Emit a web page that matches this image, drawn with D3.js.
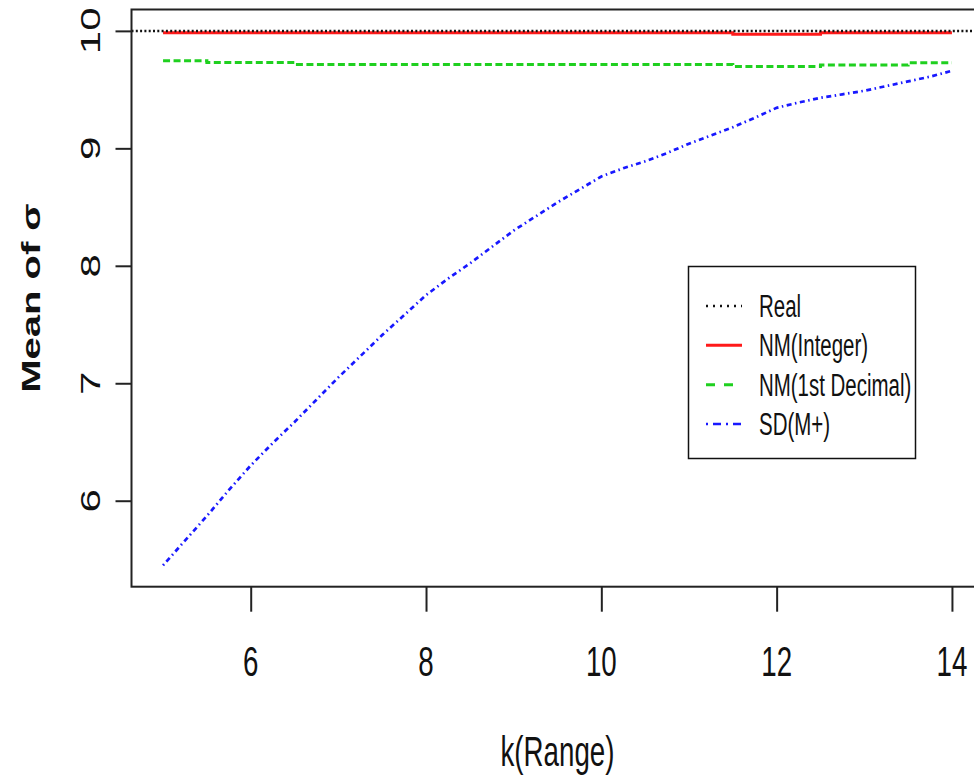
<!DOCTYPE html>
<html>
<head>
<meta charset="utf-8">
<script src="https://cdn.jsdelivr.net/npm/d3@7"></script>
<style>
  html, body { margin: 0; padding: 0; background: #fff; }
  svg { display: block; }
  text { font-family: "Liberation Sans", Arial, sans-serif; fill: #111; }
</style>
</head>
<body>
<svg id="chart" width="974" height="778"></svg>
<script>
// ---- data ----
const kValues = [5, 5.25, 5.5, 5.75, 6, 6.25, 6.5, 6.75, 7, 7.25, 7.5, 7.75, 8, 8.25, 8.5, 8.75,
  9, 9.25, 9.5, 9.75, 10, 10.25, 10.5, 10.75, 11, 11.25, 11.5, 11.75, 12, 12.25, 12.5, 12.75,
  13, 13.25, 13.5, 13.75, 14];
const realValue = 10;
const nmInteger = [9.985, 9.985, 9.985, 9.985, 9.985, 9.985, 9.985, 9.985, 9.985, 9.985, 9.985, 9.985,
  9.985, 9.985, 9.985, 9.985, 9.985, 9.985, 9.985, 9.985, 9.985, 9.985, 9.985, 9.985, 9.985, 9.985,
  9.972, 9.972, 9.972, 9.972, 9.985, 9.985, 9.985, 9.985, 9.985, 9.985, 9.985];
const nmDecimal = [9.745, 9.745, 9.73, 9.73, 9.73, 9.73, 9.714, 9.714, 9.714, 9.714, 9.714, 9.714,
  9.714, 9.714, 9.714, 9.714, 9.714, 9.714, 9.714, 9.714, 9.714, 9.714, 9.714, 9.714, 9.714, 9.714,
  9.697, 9.697, 9.697, 9.697, 9.71, 9.71, 9.71, 9.71, 9.728, 9.728, 9.728];
const sdMplus = [5.45, 5.66, 5.87, 6.09, 6.30, 6.49, 6.67, 6.86, 7.05, 7.23, 7.41, 7.58, 7.75, 7.89,
  8.02, 8.16, 8.30, 8.42, 8.54, 8.65, 8.76, 8.83, 8.89, 8.96, 9.04, 9.11, 9.18, 9.26, 9.345, 9.39,
  9.43, 9.46, 9.49, 9.53, 9.57, 9.61, 9.66];
const xTicks = [6, 8, 10, 12, 14];
const yTicks = [6, 7, 8, 9, 10];
const legendLabels = ["Real", "NM(Integer)", "NM(1st Decimal)", "SD(M+)"];
const xTitle = "k(Range)";
const yTitle = "Mean of  σ";

// ---- layout ----
const svg = d3.select("#chart");
const plot = { left: 131.5, right: 983.5, top: 9.5, bottom: 586.7 };
const sx = 0.66; // horizontal squeeze of the reference's text

const xExt = d3.extent(kValues);
const xPad = (xExt[1] - xExt[0]) * 0.04;
const allY = [...nmInteger, ...nmDecimal, ...sdMplus, realValue];
const yExt = d3.extent(allY);
const yPad = (yExt[1] - yExt[0]) * 0.04;

const x = d3.scaleLinear().domain([xExt[0] - xPad, xExt[1] + xPad]).range([plot.left, plot.right]);
const y = d3.scaleLinear().domain([yExt[0] - yPad, yExt[1] + yPad]).range([plot.bottom, plot.top]);

const axisColor = "#222";

// ---- series ----
const series = [
  { name: legendLabels[1], values: nmInteger, color: "#ff1a1a", dash: null, width: 3, curve: d3.curveStepAfter },
  { name: legendLabels[2], values: nmDecimal, color: "#1fd01f", dash: "7,3.5", width: 3, curve: d3.curveStepAfter },
  { name: legendLabels[3], values: sdMplus, color: "#1818ff", dash: "1.5,3.5,5,3.5", width: 2.7, curve: d3.curveLinear }
];

const plotG = svg.append("g");
plotG.selectAll("path.series")
  .data(series)
  .join("path")
  .attr("class", "series")
  .attr("fill", "none")
  .attr("stroke", d => d.color)
  .attr("stroke-width", d => d.width)
  .attr("stroke-dasharray", d => d.dash)
  .attr("d", d => d3.line().curve(d.curve).x((v, i) => x(kValues[i])).y(v => y(v))(d.values));

// Real reference line (abline across the whole plot region)
plotG.append("path")
  .attr("fill", "none")
  .attr("stroke", "#111")
  .attr("stroke-width", 2.5)
  .attr("stroke-dasharray", "2,2.3")
  .attr("d", d3.line().x(d => x(d)).y(() => y(realValue))(x.domain()));

// ---- box ----
svg.append("rect")
  .attr("x", plot.left).attr("y", plot.top)
  .attr("width", plot.right - plot.left).attr("height", plot.bottom - plot.top)
  .attr("fill", "none").attr("stroke", axisColor).attr("stroke-width", 2);

// ---- axes ----
const xAxisG = svg.append("g").attr("transform", `translate(0,${plot.bottom})`)
  .call(d3.axisBottom(x).tickValues(xTicks).tickSize(25).tickFormat(""));
xAxisG.select(".domain").remove();
xAxisG.selectAll(".tick line").attr("stroke", axisColor).attr("stroke-width", 2);

const yAxisG = svg.append("g").attr("transform", `translate(${plot.left},0)`)
  .call(d3.axisLeft(y).tickValues(yTicks).tickSize(16).tickFormat(""));
yAxisG.select(".domain").remove();
yAxisG.selectAll(".tick line").attr("stroke", axisColor).attr("stroke-width", 2);

// tick labels
svg.append("g").selectAll("text")
  .data(xTicks)
  .join("text")
  .attr("transform", d => `translate(${x(d)},676) scale(${sx},1)`)
  .attr("text-anchor", "middle")
  .attr("font-size", 42)
  .text(d => d);

svg.append("g").selectAll("text")
  .data(yTicks)
  .join("text")
  .attr("transform", d => `translate(100,${y(d)}) scale(${sx},1) rotate(-90)`)
  .attr("text-anchor", "middle")
  .attr("font-size", 42)
  .text(d => d);

// axis titles
svg.append("text")
  .attr("transform", `translate(${(plot.left + plot.right) / 2},766) scale(${sx},1)`)
  .attr("text-anchor", "middle")
  .attr("font-size", 42)
  .text(xTitle);

svg.append("text")
  .attr("transform", `translate(40,${(plot.top + plot.bottom) / 2}) scale(${sx},1) rotate(-90)`)
  .attr("text-anchor", "middle")
  .attr("font-size", 40)
  .attr("font-weight", "bold")
  .text(yTitle);

// ---- legend ----
const legend = svg.append("g");
legend.append("rect")
  .attr("x", 688.5).attr("y", 266.5).attr("width", 227).attr("height", 192)
  .attr("fill", "#fff").attr("stroke", "#111").attr("stroke-width", 1.5);

const legendItems = [
  { label: legendLabels[0], color: "#111", dash: "2,5", width: 2.5 },
  ...series.map(s => ({ label: s.name, color: s.color, dash: s.dash, width: s.width }))
];
const rowY = d3.scalePoint().domain(legendLabels).range([306, 424]);

const rows = legend.selectAll("g.row").data(legendItems).join("g").attr("class", "row");
rows.append("line")
  .attr("x1", 706).attr("x2", 742)
  .attr("y1", d => rowY(d.label)).attr("y2", d => rowY(d.label))
  .attr("stroke", d => d.color)
  .attr("stroke-width", d => d.width)
  .attr("stroke-dasharray", d => d.label === legendLabels[3] ? "2,5,8,5" : (d.label === legendLabels[2] ? "9,9" : d.dash));
rows.append("text")
  .attr("transform", d => `translate(759,${rowY(d.label) + 11}) scale(${sx},1)`)
  .attr("font-size", 31)
  .text(d => d.label);
</script>
</body>
</html>
